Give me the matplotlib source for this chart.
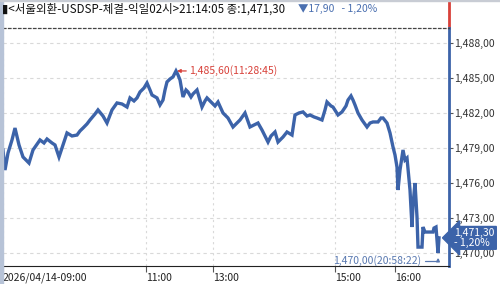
import matplotlib
matplotlib.use("Agg")
import matplotlib.pyplot as plt
from matplotlib.patches import Rectangle

plt.rcParams['font.family'] = ['Noto Sans CJK KR', 'DejaVu Sans']
plt.rcParams['axes.unicode_minus'] = False

# ================================
# 데이터 (봉 인덱스, 환율)
# ================================
bar_idx = [0, 2, 5, 9, 12, 16, 20, 26, 30, 37, 41, 44, 49, 52, 56, 60, 64, 69, 74, 77,
           80, 84, 87, 92, 95, 100, 104, 109, 114, 119, 124, 127, 131, 134, 137, 141, 144, 147, 149, 154,
           157, 160, 162, 164, 167, 170, 173, 175, 177, 180, 183, 185, 188, 190, 194, 197, 199, 202, 204, 209,
           212, 215, 220, 225, 230, 234, 237, 242, 247, 251, 255, 259, 265, 268, 272, 275, 280, 284, 289, 292,
           296, 300, 304, 307, 311, 314, 319, 322, 324, 328, 330, 335, 339, 343, 345, 348, 350, 352, 355, 359,
           364, 367, 370, 375, 378, 380, 384, 387, 390, 392, 394, 395, 397, 400, 402, 404, 407, 409, 410, 412,
           414, 415, 419, 420, 422, 430, 431, 433, 434, 435, 436]
usd_krw = [1478.83, 1477.11, 1478.57, 1479.69, 1480.71, 1479.26, 1478.23, 1477.71, 1478.83, 1479.69,
           1479.43, 1479.77, 1479.43, 1479.26, 1478.23, 1479.26, 1480.29, 1480.03, 1480.11, 1480.46,
           1480.71, 1481.06, 1481.40, 1481.91, 1482.26, 1481.74, 1481.14, 1482.26, 1482.86, 1482.77,
           1482.51, 1483.29, 1483.03, 1483.29, 1483.80, 1484.14, 1484.57, 1483.97, 1483.54, 1483.29,
           1482.69, 1483.11, 1483.97, 1484.66, 1484.91, 1485.09, 1485.60, 1485.26, 1484.83, 1483.37,
           1483.97, 1483.80, 1483.37, 1483.63, 1483.97, 1483.11, 1482.51, 1483.03, 1483.29, 1482.86,
           1482.60, 1482.94, 1482.00, 1481.57, 1480.80, 1481.14, 1481.40, 1482.00, 1480.80, 1480.97,
           1481.14, 1480.54, 1479.51, 1480.03, 1480.37, 1479.51, 1479.94, 1480.37, 1480.11, 1481.83,
           1482.00, 1482.09, 1481.74, 1481.83, 1481.66, 1481.57, 1481.40, 1482.26, 1482.94, 1482.60,
           1482.51, 1481.83, 1482.09, 1482.60, 1483.11, 1483.46, 1483.11, 1482.69, 1482.00, 1481.40,
           1480.80, 1481.14, 1481.23, 1481.23, 1481.57, 1481.57, 1481.14, 1480.29, 1479.09, 1478.40,
           1477.37, 1475.40, 1477.11, 1478.83, 1477.97, 1478.14, 1475.40, 1472.23, 1474.11, 1476.00,
           1473.09, 1470.51, 1470.51, 1472.23, 1471.80, 1471.80, 1472.14, 1472.23, 1471.11, 1470.00,
           1471.30]

tick_idx = [0, 143, 210, 332, 392]
tick_labels = ["2026/04/14-09:00", "11:00", "13:00", "15:00", "16:00"]
y_ticks = [1470, 1473, 1476, 1479, 1482, 1485, 1488]
y_labels = ["1,470,00", "1,473,00", "1,476,00", "1,479,00", "1,482,00", "1,485,00", "1,488,00"]

high_val, high_time = 1485.60, "11:28:45"
low_val, low_time = 1470.00, "20:58:22"
last_val = 1471.30

BLUE = "#3c63a9"
RED = "#d8413a"

# ================================
# 차트
# ================================
fig = plt.figure(figsize=(5, 2.84), dpi=100)
ax = fig.add_axes([3/500, 18/284, 446/500, 238/284])

ax.plot(bar_idx, usd_krw, color=BLUE, lw=2.4, solid_joinstyle='miter')

ax.set_xlim(0, 446)
ax.set_ylim(1468.89, 1489.28)

ax.set_xticks(tick_idx)
ax.set_xticklabels(tick_labels, fontsize=7.5, ha='left', color='#222222')
ax.set_yticks(y_ticks)
ax.set_yticklabels(y_labels, fontsize=7.5, color='#333333')
ax.yaxis.tick_right()
ax.tick_params(axis='y', length=3, pad=1, color='#555555')
ax.tick_params(axis='x', length=4, pad=1, color='#555555')

ax.grid(axis='y', linestyle=(0, (3, 3)), color='#d9d9d9', lw=0.8)
ax.grid(axis='x', linestyle=(0, (2, 3)), color='#d9d9d9', lw=0.8)

ax.spines['left'].set_visible(False)
ax.spines['bottom'].set_color('#222222')
ax.spines['right'].set_color(BLUE)
ax.spines['right'].set_linewidth(2)
ax.spines['top'].set_linestyle((0, (2, 2)))
ax.spines['top'].set_color('#444444')
ax.spines['top'].set_linewidth(0.9)

# 오른쪽 위 빨간 막대
ax.plot([1, 1], [1, 1.108], transform=ax.transAxes, clip_on=False, color=RED, lw=2)

# 최고/최저 표시
ax.annotate(f"{high_val:,.2f}({high_time})".replace(".", ","),
            xy=(bar_idx[usd_krw.index(high_val)] + 1, high_val),
            xytext=(186, high_val), va='center', ha='left',
            fontsize=7.5, color=RED,
            arrowprops=dict(arrowstyle='-|>', color=RED, lw=0.9, mutation_scale=5,
                            shrinkA=0, shrinkB=0))
ax.annotate(f"{low_val:,.2f}({low_time})".replace(".", ","),
            xy=(bar_idx[usd_krw.index(low_val)], low_val - 0.4),
            xytext=(418, low_val - 0.68), va='center', ha='right',
            fontsize=7.5, color='#5878b0',
            arrowprops=dict(arrowstyle='-|>', color='#5878b0', lw=0.9, mutation_scale=5,
                            shrinkA=1, shrinkB=0,
                            connectionstyle='angle,angleA=0,angleB=90,rad=0'))

# 현재가 라벨
ax.text(1.012, last_val, "1,471,30\n- 1,20%", transform=ax.get_yaxis_transform(),
        ha='left', va='center', fontsize=7.5, color='white', linespacing=0.95,
        clip_on=False,
        bbox=dict(boxstyle='larrow,pad=0.15', fc=BLUE, ec=BLUE))

# 제목
fig.text(2/500, 1 - 9/284, "▮<서울외환-USDSP-체결-익일02시>21:14:05 종:1,471,30",
         fontsize=8.3, va='center', ha='left', color='#111111')
fig.text(298/500, 1 - 9/284, "▼17,90   - 1,20%",
         fontsize=7.5, va='center', ha='left', color='#4a6fb0')

# 왼쪽 테두리
fig.patches.append(Rectangle((0, 0), 3/500, 1, transform=fig.transFigure,
                             color='#b7c3d7', zorder=0))
fig.patches.append(Rectangle((0, 1 - 1/284), 1, 1/284, transform=fig.transFigure,
                             color='#c8ccd4', zorder=0))

fig.savefig("out.png", dpi=100)
